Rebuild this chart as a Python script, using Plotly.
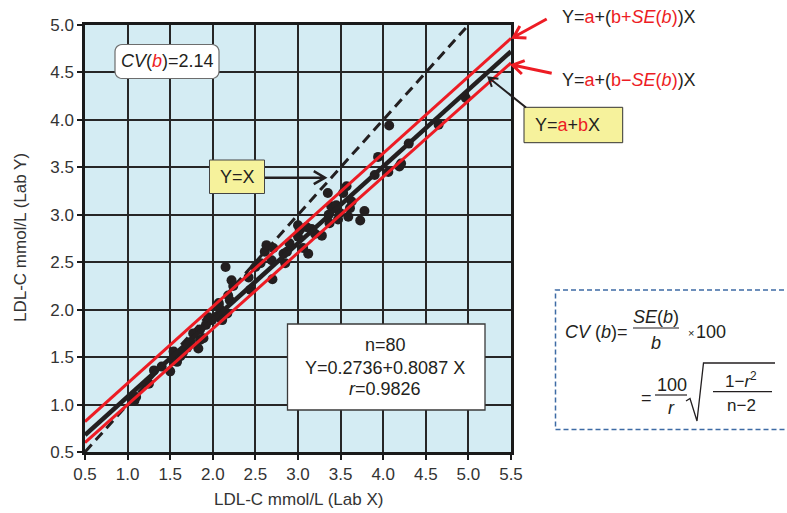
import math
import plotly.graph_objects as go

# ---------------- data ----------------
lab_x = [1.05, 1.08, 1.10, 1.31, 1.40, 1.50, 1.55, 1.58, 1.62, 1.54,
         1.65, 1.72, 1.74, 1.77, 1.83, 1.85, 1.85, 1.89, 1.92, 1.99,
         2.05, 2.07, 2.09, 2.09, 2.11, 2.07, 2.17, 2.18, 2.20, 2.15,
         2.22, 2.24, 2.42, 2.44, 2.56, 2.61, 2.63, 2.71, 2.69, 2.70,
         2.83, 2.85, 2.87, 3.00, 3.00, 3.02, 3.06, 3.10, 3.12, 3.16,
         3.20, 3.28, 3.35, 3.36, 3.37, 3.39, 3.47, 3.49, 3.53, 3.57,
         3.59, 3.61, 3.63, 3.73, 3.78, 3.90, 3.94, 4.06, 4.07, 4.19,
         4.21, 4.65, 4.97, 2.50, 2.90, 1.95, 1.70, 1.25, 3.45, 4.30]
lab_y = [1.07, 1.04, 1.08, 1.36, 1.40, 1.35, 1.46, 1.45, 1.51, 1.56,
         1.55, 1.63, 1.66, 1.75, 1.59, 1.68, 1.79, 1.70, 1.84, 1.89,
         1.93, 2.07, 2.00, 1.91, 1.89, 2.05, 1.96, 2.15, 2.10, 2.45,
         2.31, 2.25, 2.34, 2.21, 2.49, 2.61, 2.68, 2.65, 2.52, 2.32,
         2.59, 2.49, 2.61, 2.89, 2.77, 2.84, 2.65, 2.87, 2.59, 2.85,
         2.80, 2.78, 3.23, 3.00, 2.91, 3.09, 2.95, 3.02, 3.23, 3.30,
         2.98, 3.07, 3.14, 2.94, 3.04, 3.42, 3.61, 3.45, 3.94, 3.51,
         3.54, 3.95, 4.23, 2.45, 2.70, 1.92, 1.60, 1.22, 3.10, 3.75]

reg_a = 0.2736
reg_b = 0.8087
reg_x = [0.5, 5.5]
upper_red_x = [0.5, 5.5]
upper_red_y = [0.82, 4.86]
lower_red_x = [0.5, 5.5]
lower_red_y = [0.60, 4.60]
identity_x = [0.5, 5.0]
identity_y = [0.5, 5.0]

x_ticks = [0.5, 1.0, 1.5, 2.0, 2.5, 3.0, 3.5, 4.0, 4.5, 5.0, 5.5]
y_ticks = [0.5, 1.0, 1.5, 2.0, 2.5, 3.0, 3.5, 4.0, 4.5, 5.0]
x_labels = ["%.1f" % v for v in x_ticks]
y_labels = ["%.1f" % v for v in y_ticks]

n_points = 80
r_value = 0.9826
cv_b = 2.14

# ---------------- styles ----------------
W, H = 787, 513
L, R, T, B = 85, 276, 25, 61
PW, PH = W - L - R, H - T - B
RED = "#ED1C24"
DARK = "#231F20"
FONT = "Liberation Sans, Arial, sans-serif"
YELLOW = "#F6F29C"


def px(x):
    return (x - L) / PW


def py(y):
    return (T + PH - y) / PH


def path_pts(pts, close=False):
    s = "M " + " L ".join("%.5f,%.5f" % (px(a), py(b)) for a, b in pts)
    return s + (" Z" if close else "")


def arrow_path(x0, y0, x1, y1, head=11, ang=32):
    th = math.atan2(y0 - y1, x0 - x1)
    w1 = (x1 + head * math.cos(th + math.radians(ang)), y1 + head * math.sin(th + math.radians(ang)))
    w2 = (x1 + head * math.cos(th - math.radians(ang)), y1 + head * math.sin(th - math.radians(ang)))
    return path_pts([(x0, y0), (x1, y1)]) + " " + path_pts([w1, (x1, y1), w2])


def rounded_rect(x0, y0, x1, y1, r):
    pts = []
    corners = [(x1 - r, y0 + r, -90), (x1 - r, y1 - r, 0), (x0 + r, y1 - r, 90), (x0 + r, y0 + r, 180)]
    for cx, cy, start in corners:
        for k in range(7):
            a = math.radians(start + 15 * k)
            pts.append((cx + r * math.cos(a), cy + r * math.sin(a)))
    return path_pts(pts, close=True)


fig = go.Figure()

fig.add_trace(go.Scatter(x=identity_x, y=identity_y, mode="lines",
                         line=dict(color=DARK, width=3, dash="10px,6px"), hoverinfo="skip"))
fig.add_trace(go.Scatter(x=lab_x, y=lab_y, mode="markers",
                         marker=dict(color=DARK, size=10), hoverinfo="skip"))
fig.add_trace(go.Scatter(x=reg_x, y=[reg_a + reg_b * v for v in reg_x], mode="lines",
                         line=dict(color=DARK, width=4.5), hoverinfo="skip"))
fig.add_trace(go.Scatter(x=upper_red_x, y=upper_red_y, mode="lines",
                         line=dict(color=RED, width=3), hoverinfo="skip"))
fig.add_trace(go.Scatter(x=lower_red_x, y=lower_red_y, mode="lines",
                         line=dict(color=RED, width=3), hoverinfo="skip"))

shapes = []
# CV(b) rounded box
shapes.append(dict(type="path", xref="paper", yref="paper", path=rounded_rect(115, 44.5, 219, 78.5, 7),
                   fillcolor="white", line=dict(color="#6d6d6d", width=1.2), layer="above"))
# Y=X yellow box
shapes.append(dict(type="rect", xref="paper", yref="paper", x0=px(209.5), x1=px(264.5), y0=py(193.5), y1=py(160),
                   fillcolor=YELLOW, line=dict(color="#444", width=1), layer="above"))
# stats box
shapes.append(dict(type="rect", xref="paper", yref="paper", x0=px(287.5), x1=px(485), y0=py(410), y1=py(324),
                   fillcolor="white", line=dict(color="#3a3a3a", width=1.3), layer="above"))
# Y=a+bX yellow box
shapes.append(dict(type="rect", xref="paper", yref="paper", x0=px(524), x1=px(622.7), y0=py(142.7), y1=py(107.3),
                   fillcolor=YELLOW, line=dict(color="#333", width=1), layer="above"))
# formula dashed box
shapes.append(dict(type="rect", xref="paper", yref="paper", x0=px(555.5), x1=px(800), y0=py(429.5), y1=py(290),
                   fillcolor="rgba(0,0,0,0)", line=dict(color="#3E6BA5", width=1.5, dash="5px,3px"), layer="above"))
# arrows
shapes.append(dict(type="path", xref="paper", yref="paper", path=arrow_path(265, 177.7, 325, 177.7, 13, 30),
                   line=dict(color=DARK, width=2.5), layer="above"))
shapes.append(dict(type="path", xref="paper", yref="paper", path=arrow_path(546.7, 19, 513.5, 37.3, 13, 32),
                   line=dict(color=RED, width=3), layer="above"))
shapes.append(dict(type="path", xref="paper", yref="paper", path=arrow_path(551.7, 73.3, 512.5, 65, 13, 32),
                   line=dict(color=RED, width=3), layer="above"))
shapes.append(dict(type="path", xref="paper", yref="paper", path=arrow_path(526, 107.5, 488.5, 77.5, 10, 32),
                   line=dict(color=DARK, width=2), layer="above"))
# formula: fraction bars and radical
for (a, b_, y) in [(633, 679, 328), (655, 687, 395), (713, 772, 391.7)]:
    shapes.append(dict(type="line", xref="paper", yref="paper", x0=px(a), x1=px(b_), y0=py(y), y1=py(y),
                       line=dict(color=DARK, width=1.2), layer="above"))
shapes.append(dict(type="path", xref="paper", yref="paper",
                   path=path_pts([(686, 401), (690, 398.5), (697, 421), (703.5, 363), (775, 363)]),
                   line=dict(color=DARK, width=1.3), layer="above"))

ann = []


def txt(x, y, text, size=18, color=DARK, xanchor="center"):
    ann.append(dict(x=px(x), y=py(y), xref="paper", yref="paper", text=text, showarrow=False,
                    xanchor=xanchor, yanchor="middle", font=dict(size=size, color=color, family=FONT)))


def red(s):
    return "<span style='color:%s'>%s</span>" % (RED, s)


txt(167, 61.5, "<i>CV</i>(<i>%s</i>)=%.2f" % (red("b"), cv_b))
txt(237, 177, "Y=X")
txt(385, 345, "n=%d" % n_points)
txt(385, 367.5, "Y=%.4f+%.4f X" % (reg_a, reg_b))
txt(385, 389, "<i>r</i>=%.4f" % r_value)
txt(567.5, 125, "Y=%s+%sX" % (red("a"), red("b")))
txt(560, 17, "Y=%s+(%s)X" % (red("a"), red("b+<i>SE</i>(<i>b</i>)")), xanchor="left")
txt(560, 80, "Y=%s+(%s)X" % (red("a"), red("b\u2212<i>SE</i>(<i>b</i>)")), xanchor="left")
# formula
txt(563, 332, "<i>CV</i> (<i>b</i>)=", xanchor="left")
txt(656, 316.5, "<i>SE</i>(<i>b</i>)", size=18)
txt(656, 343, "<i>b</i>", size=18)
txt(690.5, 332.5, "\u00d7", size=11)
txt(711, 332, "100", size=18)
txt(646.5, 398, "=", size=18)
txt(671.5, 384.5, "100", size=18)
txt(671.5, 408, "<i>r</i>", size=18)
txt(741, 379.5, "1\u2212<i>r</i><sup>2</sup>", size=17)
txt(741, 405, "n\u22122", size=17)
# axis titles
txt(298, 500, "LDL-C mmol/L (Lab X)", size=17, color="#333")
ann.append(dict(x=px(20), y=py(238), xref="paper", yref="paper", text="LDL-C mmol/L (Lab Y)", showarrow=False,
                textangle=-90, xanchor="center", yanchor="middle", font=dict(size=17, color="#333", family=FONT)))

axis_common = dict(showgrid=True, gridcolor="#262626", gridwidth=1.8, showline=True, linecolor="#1a1a1a",
                   linewidth=2.5, mirror=True, ticks="outside", ticklen=5, tickwidth=1.5, tickcolor="#1a1a1a",
                   zeroline=False, tickfont=dict(size=17, color="#333", family=FONT), fixedrange=True)

fig.update_layout(
    width=W, height=H, margin=dict(l=L, r=R, t=T, b=B, autoexpand=False),
    paper_bgcolor="white", plot_bgcolor="#D4ECF3", showlegend=False,
    font=dict(family=FONT, color=DARK),
    xaxis=dict(range=[0.5, 5.5], tickvals=x_ticks, ticktext=x_labels, **axis_common),
    yaxis=dict(range=[0.5, 5.0], tickvals=y_ticks, ticktext=y_labels, **axis_common),
    shapes=shapes, annotations=ann,
)

fig.write_html("out.html", config={"displayModeBar": False},
               post_script="document.body.style.margin='0';document.body.style.overflow='hidden';")
